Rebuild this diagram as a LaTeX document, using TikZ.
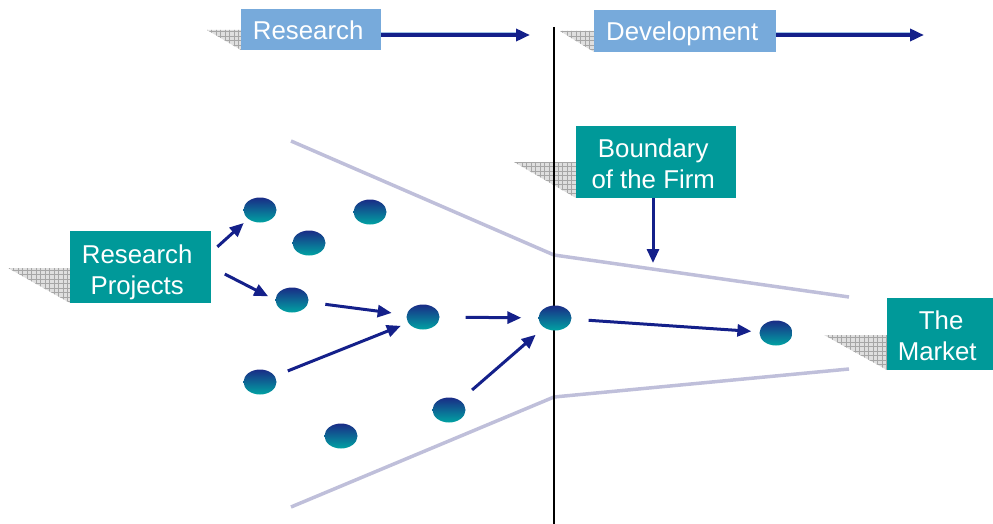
\documentclass[tikz,border=0pt]{standalone}
\usepackage{fontspec}
\setmainfont{Liberation Sans}
\usetikzlibrary{arrows.meta,shapes.geometric}
\definecolor{tealbox}{HTML}{009999}
\definecolor{skybox}{HTML}{77AADB}
\definecolor{navy}{HTML}{14208A}
\definecolor{lav}{HTML}{BFBFDA}
\definecolor{dotTop}{HTML}{1A2C86}
\definecolor{dotBot}{HTML}{00A3A3}
\tikzset{
  lbl/.style={text=white, inner sep=0pt,
    font=\fontsize{25.8}{31}\selectfont},
  tealnode/.style={lbl, fill=tealbox},
  skynode/.style={lbl, fill=skybox},
  dot/.style={ellipse, minimum width=33pt, minimum height=25pt, inner sep=0pt,
    top color=dotTop, bottom color=dotBot, shading angle=0},
  arr/.style={draw=navy, line width=3pt,
    -{Triangle[length=14pt,width=12pt]}},
  fence/.style={draw=lav, line width=3.5pt, line join=round},
}
% centred label text, moved by (#1,#2) inside its box; the box keeps its size
\newcommand{\nudged}[3]{\hspace*{#1}\raisebox{#2}[\height][\depth]{\begin{tabular}{@{}c@{}}#3\end{tabular}}}
% grid-textured drop shadow: triangle left of a box
\newcommand{\gridshadow}[3]{%
  \begin{scope}
    \clip #1 -- #2 -- #3 -- cycle;
    \fill[gray!25] #1 -- #2 -- #3 -- cycle;
    \draw[gray!70, line width=0.5pt, step=4.5pt] (0,0) grid (993,524);
  \end{scope}}
\begin{document}
\begin{tikzpicture}[x=1pt,y=-1pt]
\useasboundingbox (0,0) rectangle (993,524);

% shadows
\gridshadow{(207,30)}{(241,30)}{(241,50)}
\gridshadow{(560,31)}{(594,31)}{(594,52)}
\gridshadow{(8,268)}{(70,268)}{(70,303)}
\gridshadow{(514,162)}{(576,162)}{(576,198)}
\gridshadow{(824,335)}{(887,335)}{(887,370)}

% firm boundary lines
\coordinate (ua) at (291,141); \coordinate (ub) at (554,255); \coordinate (uc) at (849,297);
\coordinate (la) at (291,507); \coordinate (lb) at (554,397); \coordinate (lc) at (849,369);
\draw[fence] (ua) -- (ub) -- (uc);
\draw[fence] (la) -- (lb) -- (lc);

% research / development divide
\coordinate (vt) at (554,27); \coordinate (vb) at (554,524);
\draw[black, line width=1.2pt] (vt) -- (vb);

% labelled boxes
\node[skynode, minimum width=140pt, minimum height=41pt, anchor=north west] (res) at (241,9) {\nudged{-6pt}{-4pt}{Research}};
\node[skynode, minimum width=182pt, minimum height=42pt, anchor=north west] (dev) at (594,10) {\nudged{-6pt}{-3pt}{Development}};
\node[tealnode, minimum width=141pt, minimum height=72pt, anchor=north west] (rp) at (70,231) {\nudged{-7pt}{-6pt}{Research\\Projects}};
\node[tealnode, minimum width=160pt, minimum height=72pt, anchor=north west] (bf) at (576,126) {\nudged{-6pt}{-5pt}{Boundary\\of the Firm}};
\node[tealnode, minimum width=106pt, minimum height=72pt, anchor=north west] (mk) at (887,298) {\nudged{-6pt}{-5pt}{\hspace*{8pt}The\\Market}};

% phase arrows, with a pale underline
\coordinate (ra) at (530,35);
\coordinate (da) at (924,35);
\draw[skybox!70, line width=1.2pt] ([yshift=2.2pt]res.east |- ra) -- ([xshift=-12pt,yshift=2.2pt]ra);
\draw[skybox!70, line width=1.2pt] ([yshift=2.2pt]dev.east |- da) -- ([xshift=-12pt,yshift=2.2pt]da);
\draw[arr, line width=3.5pt] (res.east |- ra) -- (ra);
\draw[arr, line width=3.5pt] (dev.east |- da) -- (da);

% projects
\node[dot] (e1) at (260,210) {};
\node[dot] (e2) at (370,212) {};
\node[dot] (e3) at (309,243) {};
\node[dot] (e4) at (292,300) {};
\node[dot] (e5) at (423,317) {};
\node[dot] (e6) at (555,318) {};
\node[dot] (e7) at (776,333) {};
\node[dot] (e9) at (260,382) {};
\node[dot] (e10) at (449,410) {};
\node[dot] (e8) at (341,436) {};

% project flow
\draw[arr, shorten <=8pt, shorten >=6pt] (rp.12) -- (e1.south west);
\draw[arr, shorten <=15pt, shorten >=8pt] (rp.east) -- (e4.west);
\draw[arr, shorten <=17pt, shorten >=15pt] (e4) -- (e5);
\draw[arr, shorten <=14pt, shorten >=8pt] (e9) -- (e5);
\draw[arr, shorten <=26pt, shorten >=17pt] (e5) -- (e6);
\draw[arr, shorten <=16pt, shorten >=11pt] (e10) -- (e6);
\draw[arr, shorten <=17pt, shorten >=8pt] (e6) -- (e7);

% boundary pointer
\coordinate (bt) at (653,263);
\draw[arr] (bf.south -| bt) -- (bt);
\end{tikzpicture}
\end{document}
